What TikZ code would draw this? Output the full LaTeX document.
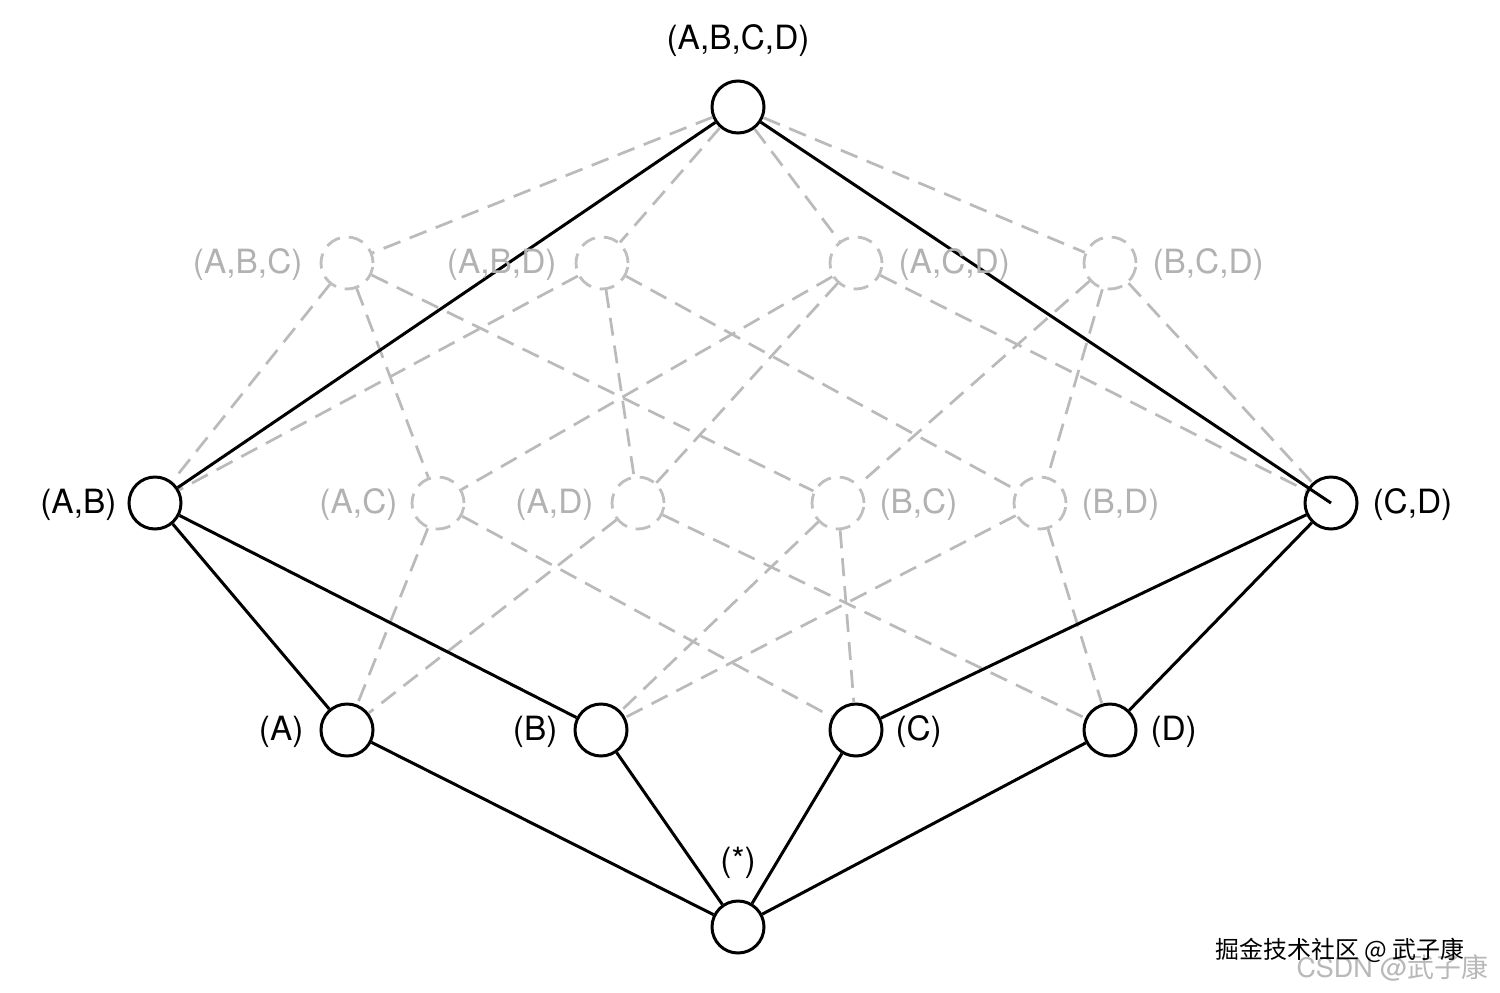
\documentclass[tikz,border=0pt]{standalone}
\usepackage{fontspec}
\setmainfont{TeX Gyre Heros}
\newfontfamily\cjk{Noto Sans CJK SC}
\begin{document}
\begin{tikzpicture}[x=1bp,y=-1bp,
  vtx/.style={circle,draw=black,line width=3bp,minimum size=52bp,inner sep=0pt},
  gvtx/.style={circle,draw=black!25,line width=2.8bp,dash pattern=on 15bp off 9bp,minimum size=52bp,inner sep=0pt},
  solid edge/.style={draw=black,line width=3bp},
  dash edge/.style={draw=black!27,line width=2.7bp,dash pattern=on 18bp off 10bp},
  lab/.style={font=\fontsize{33.5}{38}\selectfont,text=black},
  glab/.style={font=\fontsize{33.5}{38}\selectfont,text=black!30}]
\useasboundingbox (0,0) rectangle (1500,992);
\fill[white] (0,0) rectangle (1500,992);
% vertices
\node[vtx] (ABCD) at (738,107) {};
\node[gvtx] (ABC) at (347,263) {};
\node[gvtx] (ABD) at (602,263) {};
\node[gvtx] (ACD) at (856,263) {};
\node[gvtx] (BCD) at (1110,263) {};
\node[vtx] (AB) at (155,503) {};
\node[gvtx] (AC) at (438,503) {};
\node[gvtx] (AD) at (638,503) {};
\node[gvtx] (BC) at (838,503) {};
\node[gvtx] (BD) at (1040,503) {};
\node[vtx] (CD) at (1331,503) {};
\node[vtx] (A) at (347,730) {};
\node[vtx] (B) at (601,730) {};
\node[vtx] (C) at (856,730) {};
\node[vtx] (D) at (1110,730) {};
\node[vtx] (S) at (738,927) {};
% dashed edges
\foreach \u/\v in {ABCD/ABC,ABCD/ABD,ABCD/ACD,ABCD/BCD,
  ABC/AB,ABC/AC,ABC/BC,ABD/AB,ABD/AD,ABD/BD,ACD/AC,ACD/AD,ACD/CD,
  BCD/BC,BCD/BD,BCD/CD,AC/A,AC/C,AD/A,AD/D,BC/B,BC/C,BD/B,BD/D}
  \draw[dash edge] (\u) -- (\v);
% solid edges
\draw[solid edge] (ABCD) -- (AB);
\draw[solid edge] (ABCD) -- (CD.center);
\foreach \u/\v in {AB/A,AB/B,CD/C,CD/D,A/S,B/S,C/S,D/S}
  \draw[solid edge] (\u) -- (\v);
% labels
\node[lab,anchor=south] (lABCD) at (738,60) {(A,B,C,D)};
\node[glab,anchor=east] (lABC) at (306,265) {(A,B,C)};
\node[glab,anchor=east] (lABD) at (560,265) {(A,B,D)};
\node[glab,anchor=west] (lACD) at (895,265) {(A,C,D)};
\node[glab,anchor=west] (lBCD) at (1149,265) {(B,C,D)};
\node[lab,anchor=east] (lAB) at (120,505) {(A,B)};
\node[glab,anchor=east] (lAC) at (401,505) {(A,C)};
\node[glab,anchor=east] (lAD) at (597,505) {(A,D)};
\node[glab,anchor=west] (lBC) at (876,505) {(B,C)};
\node[glab,anchor=west] (lBD) at (1078,505) {(B,D)};
\node[lab,anchor=west] (lCD) at (1369,505) {(C,D)};
\node[lab,anchor=east] (lA) at (307,732) {(A)};
\node[lab,anchor=east] (lB) at (561,732) {(B)};
\node[lab,anchor=west] (lC) at (892,732) {(C)};
\node[lab,anchor=west] (lD) at (1147,732) {(D)};
\node[lab,anchor=south] (lS) at (738,882) {(*)};
% watermark
\node[anchor=west,text=black!28,font=\fontsize{27}{30}\selectfont] (wm2) at (1293,968) {CSDN @{\cjk 武子康}};
\node[anchor=west,text=black,font=\cjk\fontsize{24}{28}\selectfont] (wm1) at (1212,950) {掘金技术社区 @ 武子康};
\end{tikzpicture}
\end{document}
